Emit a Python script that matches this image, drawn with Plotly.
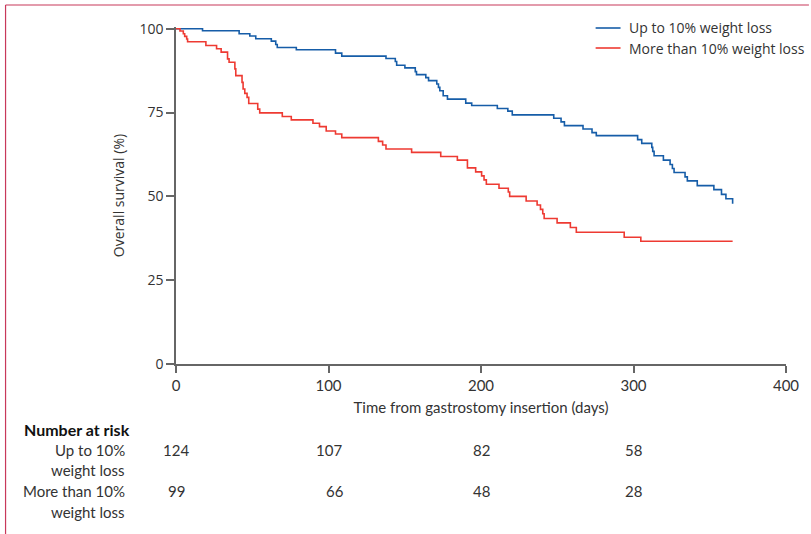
import plotly.graph_objects as go

# ---- data ----
up_to_10_days = [0, 17.4, 41.4, 48.4, 52.3, 62.5, 65.4, 66.4, 78.9, 104.6, 108.7, 137.7, 143.8, 144.7,
                 150.1, 156.9, 157.7, 163.8, 165.6, 171.0, 172.1, 173.0, 175.2, 178.0, 190.0, 193.9,
                 210.7, 217.6, 220.5, 247.7, 252.5, 254.7, 266.9, 272.8, 275.6, 302.7, 305.4, 312.0,
                 312.6, 313.5, 319.6, 324.0, 325.5, 326.6, 333.8, 335.3, 341.8, 352.7, 357.7, 360.6, 365.0]
up_to_10_surv = [100, 99.4, 98.5, 97.8, 97.0, 96.3, 95.3, 94.4, 93.7, 92.7, 91.8, 91.1, 90.2, 89.1,
                 88.3, 87.2, 86.3, 85.4, 84.5, 83.5, 82.5, 81.5, 80.0, 79.0, 77.8, 77.1,
                 76.2, 75.4, 74.3, 73.3, 72.2, 71.1, 70.1, 69.0, 68.1, 66.9, 65.8, 64.6,
                 63.4, 62.1, 60.8, 59.5, 58.3, 57.1, 55.8, 54.6, 53.2, 52.0, 50.6, 49.3, 47.8]

more_10_days = [0, 2.6, 4.8, 5.7, 7.0, 7.6, 19.6, 26.6, 29.6, 33.8, 34.8, 38.6, 39.2, 43.3, 44.0,
                45.1, 46.6, 47.7, 53.6, 54.9, 69.7, 75.6, 89.8, 94.1, 98.5, 104.6, 108.7, 132.7,
                135.5, 137.7, 154.5, 173.6, 184.5, 191.1, 196.5, 200.4, 202.0, 203.5, 211.8, 217.9,
                218.8, 229.6, 236.8, 239.0, 240.5, 241.4, 249.9, 258.6, 262.5, 293.9, 304.8, 365.0]
more_10_surv = [100, 99.3, 98.5, 97.7, 96.9, 96.1, 95.0, 94.0, 93.0, 91.0, 90.0, 88.0, 86.0, 84.0, 82.0,
                80.7, 79.5, 77.7, 76.0, 74.9, 73.8, 72.8, 71.8, 70.8, 69.5, 68.6, 67.5, 66.4,
                65.3, 64.1, 63.1, 61.9, 60.8, 58.5, 57.3, 56.1, 54.9, 53.6, 52.4, 51.3,
                50.0, 48.6, 47.4, 46.1, 44.8, 43.4, 42.1, 40.7, 39.3, 37.8, 36.6, 36.6]

series_names = ["Up to 10% weight loss", "More than 10% weight loss"]
risk_times = [0, 100, 200, 300]
risk_up_to_10 = [124, 107, 82, 58]
risk_more_10 = [99, 66, 48, 28]
x_ticks = [0, 100, 200, 300, 400]
y_ticks = [0, 25, 50, 75, 100]

BLUE = "#165da8"
RED = "#ee3a32"
AX = "#666666"
TXT = "#333333"

W, H = 811, 534
L, R, T, B = 176, 23, 27, 170
PH = H - T - B


def py(ypx):  # pixel y -> paper y
    return (H - B - ypx) / PH


def px(xpx):  # pixel x -> paper x
    return (xpx - L) / (W - L - R)


fig = go.Figure()
colors = [BLUE, RED]
fig.add_trace(go.Scatter(x=up_to_10_days, y=up_to_10_surv, mode="lines", line_shape="hv",
                         line=dict(color=BLUE, width=1.6), name=series_names[0]))
fig.add_trace(go.Scatter(x=more_10_days, y=more_10_surv, mode="lines", line_shape="hv",
                         line=dict(color=RED, width=1.6), name=series_names[1]))

ann = []
shapes = [
    dict(type="line", xref="paper", yref="paper", x0=px(5), x1=px(811), y0=py(5), y1=py(5),
         line=dict(color="#c8385a", width=1.2)),
    dict(type="line", xref="paper", yref="paper", x0=px(5), x1=px(5), y0=py(5), y1=py(534),
         line=dict(color="#c8385a", width=1.2)),
]

# legend (drawn in the top-right corner)
for i, (name, col) in enumerate(zip(series_names, colors)):
    ly = 28 + 20 * i
    shapes.append(dict(type="line", xref="paper", yref="paper", x0=px(597), x1=px(622),
                       y0=py(ly), y1=py(ly), line=dict(color=col, width=1.6)))
    ann.append(dict(text=name, x=px(628), y=py(ly), xref="paper", yref="paper", xanchor="left",
                    yanchor="middle", showarrow=False,
                    font=dict(family="Open Sans", size=14, color=TXT)))

ann.append(dict(text="<b>Number at risk</b>", x=px(21), y=py(429), xref="paper", yref="paper",
                xanchor="left", yanchor="middle", showarrow=False,
                font=dict(family="Lato", size=16, color="#111")))
row_labels = [("Up to 10%", 450), ("weight loss", 470), ("More than 10%", 491), ("weight loss", 512)]
for txt, y in row_labels:
    ann.append(dict(text=txt, x=px(127), y=py(y), xref="paper", yref="paper", xanchor="right",
                    yanchor="middle", showarrow=False, font=dict(family="Lato", size=15, color=TXT)))
for t, v in zip(risk_times, risk_up_to_10):
    ann.append(dict(text=str(v), x=t, y=py(450), xref="x", yref="paper", xanchor="center",
                    yanchor="middle", showarrow=False, font=dict(family="Lato", size=15, color=TXT)))
for t, v in zip(risk_times, risk_more_10):
    ann.append(dict(text=str(v), x=t, y=py(491), xref="x", yref="paper", xanchor="center",
                    yanchor="middle", showarrow=False, xshift=6 if v == 66 else 0,
                    font=dict(family="Lato", size=15, color=TXT)))

fig.update_layout(
    width=W, height=H, autosize=False,
    margin=dict(l=L, r=R, t=T, b=B),
    paper_bgcolor="white", plot_bgcolor="white",
    showlegend=False,
    annotations=ann,
    shapes=shapes,
    xaxis=dict(range=[0, 400], tickvals=x_ticks, showgrid=False, zeroline=False,
               showline=True, linecolor=AX, linewidth=1.5, ticks="outside", ticklen=7,
               tickwidth=1.5, tickcolor=AX,
               tickfont=dict(family="Lato", size=15, color=TXT),
               title=dict(text="Time from gastrostomy insertion (days)", standoff=10,
                          font=dict(family="Lato", size=15, color=TXT))),
    yaxis=dict(range=[0, 100.5], tickvals=y_ticks, showgrid=False, zeroline=False,
               showline=True, linecolor=AX, linewidth=1.5, ticks="outside", ticklen=8,
               tickwidth=1.5, tickcolor=AX,
               tickfont=dict(family="Open Sans", size=14, color=TXT),
               title=dict(text="Overall survival (%)", standoff=12,
                          font=dict(family="Open Sans", size=14, color=TXT))),
)

fig.write_html("out.html", config={"responsive": False, "displayModeBar": False},
               post_script="document.body.style.margin='0';document.body.style.overflow='hidden';")
